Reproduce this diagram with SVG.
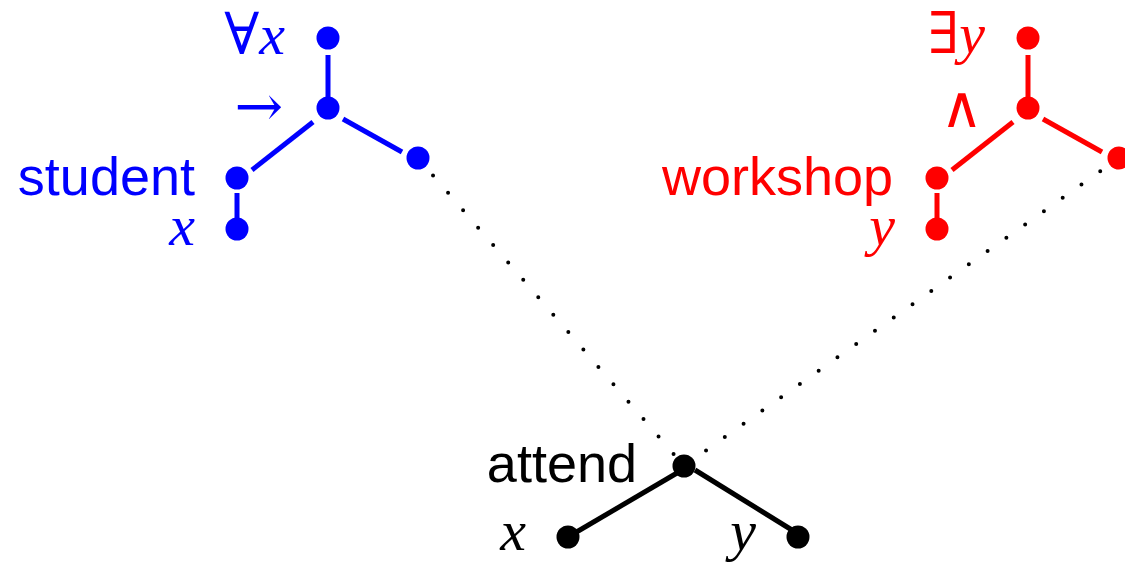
<svg xmlns="http://www.w3.org/2000/svg" width="1125" height="564" viewBox="0 0 1125 564">
<style>
.sans{font-family:"Liberation Sans",Arial,sans-serif;font-size:54px}
.math{font-family:"Liberation Serif","Times New Roman",serif;font-size:58px}
.sym{font-family:"DejaVu Serif",serif;font-style:normal}
.it{font-style:italic}
.blue{fill:#0000ff}
.red{fill:#ff0000}
.blk{fill:#000}
.lb{stroke:#0000ff;stroke-width:5;fill:none}
.lr{stroke:#ff0000;stroke-width:5;fill:none}
.lk{stroke:#000;stroke-width:5;fill:none}
.dot{stroke:#000;stroke-width:4;stroke-linecap:round;stroke-dasharray:0 23;fill:none}
</style>
<rect width="1125" height="564" fill="#fff"/>
<g id="connectors">
  <line class="dot" x1="418" y1="158" x2="684" y2="466"/>
  <line class="dot" x1="1119" y1="158" x2="684" y2="466"/>
  <line class="lb" x1="328" y1="55" x2="328" y2="98"/>
  <line class="lb" x1="313" y1="122" x2="252" y2="170"/>
  <line class="lb" x1="343" y1="119" x2="402" y2="152"/>
  <line class="lb" x1="237" y1="193" x2="237" y2="220"/>
  <line class="lr" x1="1028" y1="55" x2="1028" y2="98"/>
  <line class="lr" x1="1013" y1="122" x2="952" y2="170"/>
  <line class="lr" x1="1043" y1="119" x2="1102" y2="152"/>
  <line class="lr" x1="937" y1="193" x2="937" y2="220"/>
  <line class="lk" x1="677" y1="473" x2="568" y2="537"/>
  <line class="lk" x1="695" y1="470" x2="800" y2="535"/>
</g>
<g id="forall"><circle class="blue" cx="328" cy="38" r="11.5"/><text class="math blue" x="285" y="54" text-anchor="end"><tspan class="sym">∀</tspan><tspan class="it">x</tspan></text></g>
<g id="implies"><circle class="blue" cx="328" cy="108" r="11.5"/><text class="math sym blue" x="283" y="126" text-anchor="end" font-size="64">→</text></g>
<g id="student"><circle class="blue" cx="237" cy="178" r="11.5"/><text class="sans blue" x="195" y="195" text-anchor="end">student</text></g>
<g id="student-x"><circle class="blue" cx="237" cy="229" r="11.5"/><text class="math it blue" x="195" y="245" text-anchor="end">x</text></g>
<g id="implies-right"><circle class="blue" cx="418" cy="158" r="11.5"/></g>
<g id="exists"><circle class="red" cx="1028" cy="38" r="11.5"/><text class="math red" x="985" y="53" text-anchor="end"><tspan class="sym">∃</tspan><tspan class="it">y</tspan></text></g>
<g id="and"><circle class="red" cx="1028" cy="108" r="11.5"/><text class="math sym red" x="983" y="127" text-anchor="end">∧</text></g>
<g id="workshop"><circle class="red" cx="937" cy="178" r="11.5"/><text class="sans red" x="893" y="195" text-anchor="end">workshop</text></g>
<g id="workshop-y"><circle class="red" cx="937" cy="229" r="11.5"/><text class="math it red" x="895" y="245" text-anchor="end">y</text></g>
<g id="and-right"><circle class="red" cx="1119" cy="158" r="11.5"/></g>
<g id="attend"><circle class="blk" cx="684" cy="466" r="11.5"/><text class="sans blk" x="637" y="482" text-anchor="end">attend</text></g>
<g id="attend-x"><circle class="blk" cx="568" cy="537" r="11.5"/><text class="math it blk" x="526" y="550" text-anchor="end">x</text></g>
<g id="attend-y"><circle class="blk" cx="798" cy="537" r="11.5"/><text class="math it blk" x="756" y="550" text-anchor="end">y</text></g>
</svg>
